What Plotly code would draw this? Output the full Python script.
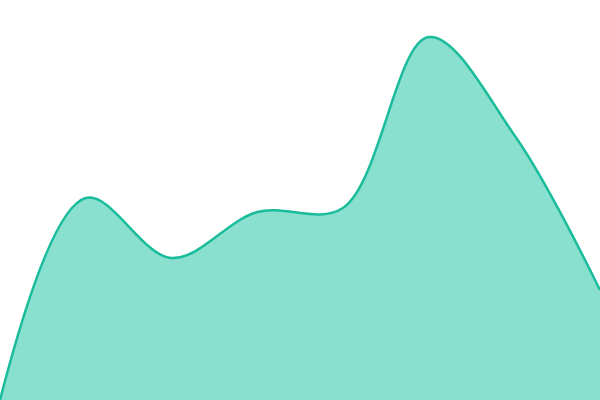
import plotly.graph_objects as go

x_vals = [0, 1, 2, 3, 4, 5, 6, 7]
y_vals = [0, 202, 142, 188, 192, 363, 265, 110]

fig = go.Figure()
fig.add_trace(go.Scatter(
    x=x_vals, y=y_vals, mode="lines",
    line=dict(shape="spline", smoothing=1.0, color="#1abc9c", width=2.5),
    fill="tozeroy", fillcolor="#89e0cf",
    hoverinfo="skip",
))
fig.update_layout(
    width=600, height=400,
    margin=dict(l=0, r=0, t=0, b=0),
    paper_bgcolor="white", plot_bgcolor="white",
    showlegend=False,
    xaxis=dict(visible=False, range=[0, 7]),
    yaxis=dict(visible=False, range=[0, 400]),
)
fig.write_html("out.html", config={"displayModeBar": False},
               post_script="document.body.style.margin='0';document.body.style.overflow='hidden';")
